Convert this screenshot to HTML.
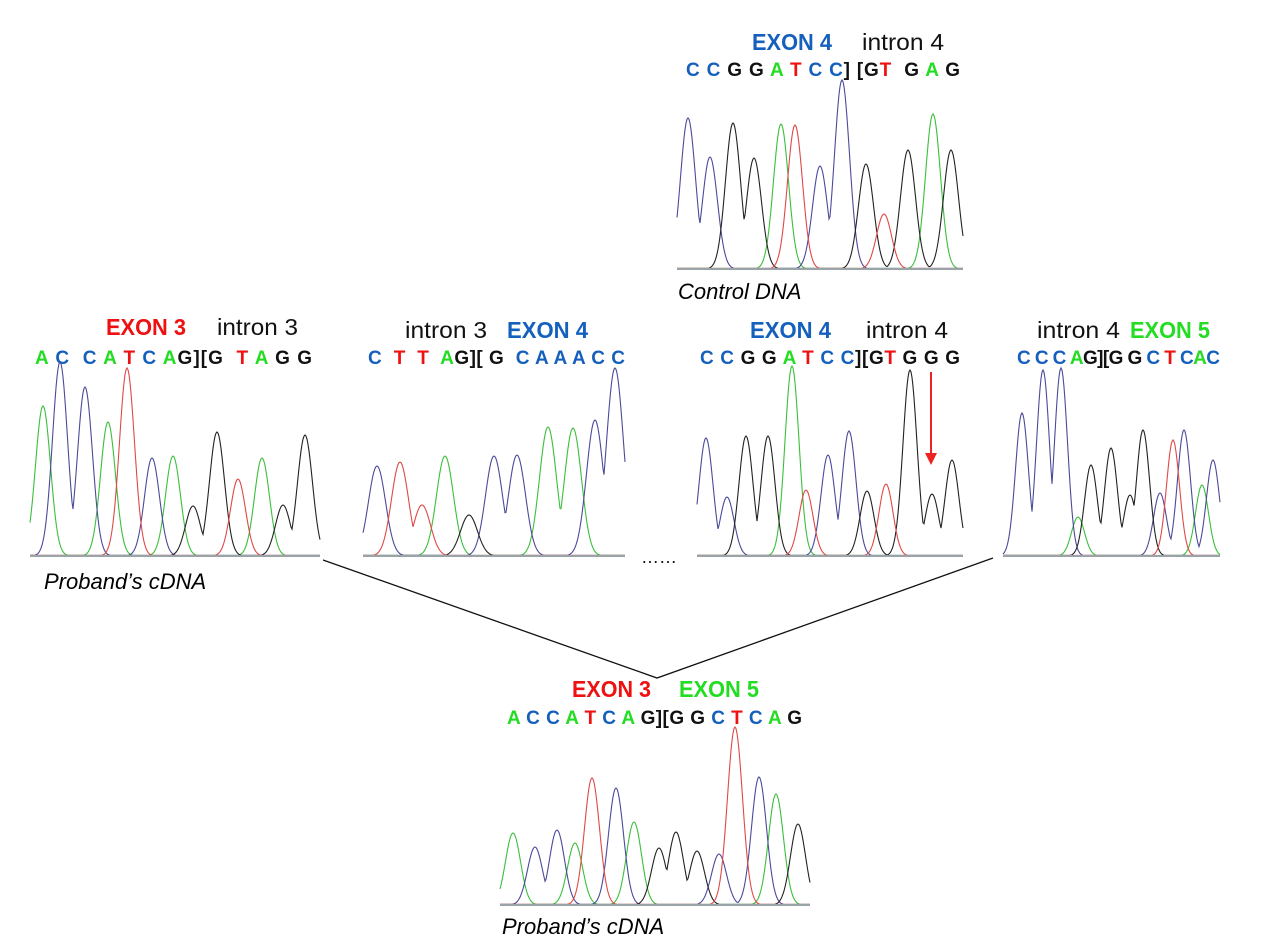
<!DOCTYPE html>
<html><head><meta charset="utf-8"><style>
html,body{margin:0;padding:0;background:#fff;width:1280px;height:950px;overflow:hidden}
svg{display:block}
.h{font-family:"Liberation Sans Narrow","Liberation Sans",sans-serif;font-size:23px}
.b{font-weight:bold}
.s{font-family:"Liberation Sans Narrow","Liberation Sans",sans-serif;font-size:19px;font-weight:bold}
.c{font-family:"Liberation Sans","DejaVu Sans",sans-serif;font-size:22px;font-style:italic}
</style></head><body>
<svg id="fig" width="1280" height="950" viewBox="0 0 1280 950">
 <g>
  <text class="h b" x="752" y="50" textLength="80" lengthAdjust="spacingAndGlyphs" fill="#1560bd">EXON 4</text>
  <text class="h" x="862" y="50" textLength="82" lengthAdjust="spacingAndGlyphs" fill="#111">intron 4</text>
  <text class="s" x="686" y="76" textLength="274" lengthAdjust="spacing" xml:space="preserve"><tspan fill="#1560bd">C C </tspan><tspan fill="#111">G G </tspan><tspan fill="#22dd22">A </tspan><tspan fill="#ee1111">T </tspan><tspan fill="#1560bd">C C</tspan><tspan fill="#111">] [G</tspan><tspan fill="#ee1111">T </tspan><tspan fill="#111"> G </tspan><tspan fill="#22dd22">A </tspan><tspan fill="#111">G</tspan></text>
  <text class="c" x="678" y="299">Control DNA</text>
 </g>
 <g>
  <text class="h b" x="106" y="335" textLength="80" lengthAdjust="spacingAndGlyphs" fill="#ee1111">EXON 3</text>
  <text class="h" x="217" y="335" textLength="81" lengthAdjust="spacingAndGlyphs" fill="#111">intron 3</text>
  <text class="s" x="35" y="364" textLength="277" lengthAdjust="spacing" xml:space="preserve"><tspan fill="#22dd22">A </tspan><tspan fill="#1560bd">C  C </tspan><tspan fill="#22dd22">A </tspan><tspan fill="#ee1111">T </tspan><tspan fill="#1560bd">C </tspan><tspan fill="#22dd22">A</tspan><tspan fill="#111">G][G  </tspan><tspan fill="#ee1111">T </tspan><tspan fill="#22dd22">A </tspan><tspan fill="#111">G G</tspan></text>
  <text class="c" x="44" y="589">Proband’s cDNA</text>
 </g>
 <g>
  <text class="h" x="405" y="338" textLength="82" lengthAdjust="spacingAndGlyphs" fill="#111">intron 3</text>
  <text class="h b" x="507" y="338" textLength="81" lengthAdjust="spacingAndGlyphs" fill="#1560bd">EXON 4</text>
  <text class="s" x="368" y="364" textLength="257" lengthAdjust="spacing" xml:space="preserve"><tspan fill="#1560bd">C  </tspan><tspan fill="#ee1111">T  T  </tspan><tspan fill="#22dd22">A</tspan><tspan fill="#111">G][ G  </tspan><tspan fill="#1560bd">C A A A C C</tspan></text>
 </g>
 <g>
  <text class="h b" x="750" y="338" textLength="81" lengthAdjust="spacingAndGlyphs" fill="#1560bd">EXON 4</text>
  <text class="h" x="866" y="338" textLength="82" lengthAdjust="spacingAndGlyphs" fill="#111">intron 4</text>
  <text class="s" x="700" y="364" textLength="260" lengthAdjust="spacing" xml:space="preserve"><tspan fill="#1560bd">C C </tspan><tspan fill="#111">G G </tspan><tspan fill="#22dd22">A </tspan><tspan fill="#ee1111">T </tspan><tspan fill="#1560bd">C C</tspan><tspan fill="#111">][G</tspan><tspan fill="#ee1111">T </tspan><tspan fill="#111">G G G</tspan></text>
 </g>
 <g>
  <text class="h" x="1037" y="338" textLength="83" lengthAdjust="spacingAndGlyphs" fill="#111">intron 4</text>
  <text class="h b" x="1130" y="338" textLength="80" lengthAdjust="spacingAndGlyphs" fill="#22dd22">EXON 5</text>
  <text class="s" x="1017" y="364" textLength="203" lengthAdjust="spacing" xml:space="preserve"><tspan fill="#1560bd">C C C </tspan><tspan fill="#22dd22">A</tspan><tspan fill="#111">G][G G </tspan><tspan fill="#1560bd">C </tspan><tspan fill="#ee1111">T </tspan><tspan fill="#1560bd">C</tspan><tspan fill="#22dd22">A</tspan><tspan fill="#1560bd">C</tspan></text>
 </g>
 <g>
  <text class="h b" x="572" y="697" textLength="79" lengthAdjust="spacingAndGlyphs" fill="#ee1111">EXON 3</text>
  <text class="h b" x="679" y="697" textLength="80" lengthAdjust="spacingAndGlyphs" fill="#22dd22">EXON 5</text>
  <text class="s" x="507" y="724" textLength="295" lengthAdjust="spacing" xml:space="preserve"><tspan fill="#22dd22">A </tspan><tspan fill="#1560bd">C C </tspan><tspan fill="#22dd22">A </tspan><tspan fill="#ee1111">T </tspan><tspan fill="#1560bd">C </tspan><tspan fill="#22dd22">A </tspan><tspan fill="#111">G][G G </tspan><tspan fill="#1560bd">C </tspan><tspan fill="#ee1111">T </tspan><tspan fill="#1560bd">C </tspan><tspan fill="#22dd22">A </tspan><tspan fill="#111">G</tspan></text>
  <text class="c" x="502" y="934">Proband’s cDNA</text>
 </g>
 <polyline points="323,560 657,678 993,558" fill="none" stroke="#111" stroke-width="1.3"/>
 <text x="641" y="563" font-family="Liberation Sans,sans-serif" font-size="18" fill="#111">……</text>
 <g>
  <line x1="931" y1="372" x2="931" y2="455" stroke="#e22" stroke-width="2"/>
  <polygon points="925,453 937,453 931,465" fill="#e22"/>
 </g>
 <g id="traces"></g>
</svg>
<script>
// peak data: center (px along trace), signal height, base letter
const ctrlX=[688,710,733,754,781,795,820,842,866,884,908,933,951];
const ctrlH=[151,112,146,111,145,144,103,189,105,55,119,155,119];
const ctrlB="CCGGATCCGTGAG";
const bX=[43,60,85,108,127,152,173,193,217,238,262,283,305];
const bH=[150,194,169,134,188,98,100,50,124,77,98,51,121];
const bB="ACCATCAGGTAGG";
const cX=[377,400,422,445,469,494,517,548,573,595,615];
const cH=[90,94,51,100,41,100,101,129,128,136,188];
const cB="CTTAGCCAACC";
const dX=[706,727,746,768,792,806,828,849,867,886,910,932,952];
const dH=[118,59,120,120,190,66,101,125,65,72,186,62,96];
const dB="CCGGATCCGTGGG";
const eX=[1022,1043,1061,1078,1091,1111,1130,1143,1160,1173,1184,1202,1213];
const eH=[143,186,188,39,91,108,61,126,63,116,126,71,96];
const eB="CCCAGGGGCTCAC";
const fX=[513,535,557,575,592,616,634,659,676,697,719,735,759,776,798];
const fH=[72,58,75,62,127,117,83,57,73,54,51,178,128,111,81];
const fB="ACCATCAGGGCTCAG";
const COL={A:"#3bbf3b",C:"#4a4a9a",G:"#222",T:"#e04848"};
const panels=[
 {x:ctrlX,h:ctrlH,b:ctrlB,x0:677,x1:963,base:269,sig:7.5,name:"control-trace"},
 {x:bX,h:bH,b:bB,x0:30,x1:320,base:556,sig:7.5,name:"proband-exon3-trace"},
 {x:cX,h:cH,b:cB,x0:363,x1:625,base:556,sig:8.5,name:"proband-intron3-trace"},
 {x:dX,h:dH,b:dB,x0:697,x1:963,base:556,sig:7,name:"proband-exon4-trace"},
 {x:eX,h:eH,b:eB,x0:1003,x1:1220,base:556,sig:6.5,name:"proband-intron4-trace"},
 {x:fX,h:fH,b:fB,x0:500,x1:810,base:905,sig:7.5,name:"proband-junction-trace"}
];
const NS="http://www.w3.org/2000/svg";
const g=document.getElementById("traces");
panels.forEach(p=>{
 const pg=document.createElementNS(NS,"g");
 
 
 g.appendChild(pg);
 ["A","C","G","T"].forEach(base=>{
  const idx=[];for(let i=0;i<p.b.length;i++) if(p.b[i]===base) idx.push(i);
  if(!idx.length) return;
  const s=p.sig; let d="";
  for(let xx=p.x0;xx<=p.x1;xx+=1){
   let v=0.6;
   idx.forEach(i=>{const t=xx-p.x[i];v=Math.max(v,p.h[i]*Math.exp(-t*t/(2*s*s)));});
   d+=(d?"L":"M")+xx+","+(p.base-v).toFixed(1);
  }
  const path=document.createElementNS(NS,"path");
  path.setAttribute("d",d);path.setAttribute("fill","none");
  path.setAttribute("stroke",COL[base]);path.setAttribute("stroke-width","1.1");
  
  
  pg.appendChild(path);
 });
 const bl=document.createElementNS(NS,"line");
 bl.setAttribute("x1",p.x0);bl.setAttribute("x2",p.x1);
 bl.setAttribute("y1",p.base);bl.setAttribute("y2",p.base);
 bl.setAttribute("stroke","#9aa4a8");bl.setAttribute("stroke-width","2");
 
 
 pg.appendChild(bl);
});
</script>
</body></html>
